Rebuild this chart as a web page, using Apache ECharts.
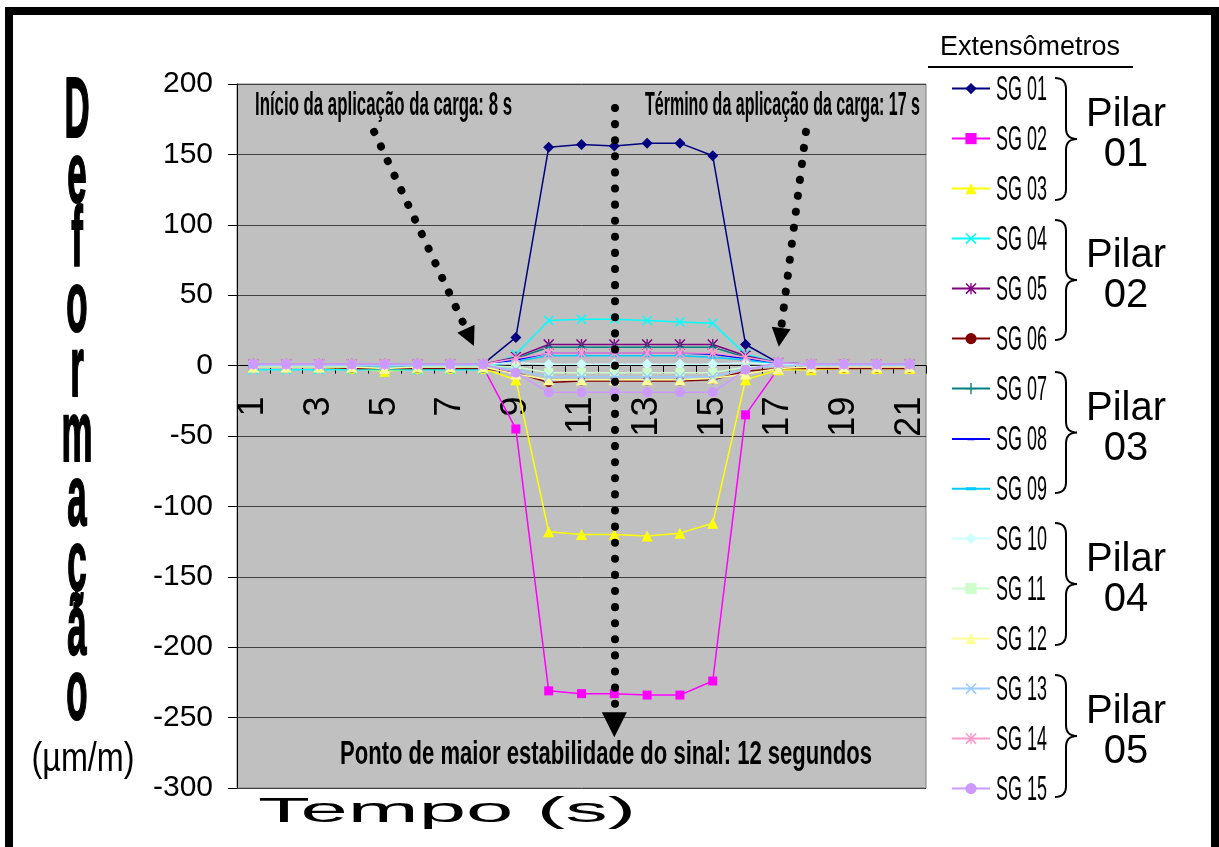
<!DOCTYPE html>
<html><head><meta charset="utf-8">
<script src="https://cdn.jsdelivr.net/npm/echarts@6/dist/echarts.min.js"></script>
<style>html,body{margin:0;padding:0;background:#fff}#c{width:1219px;height:847px}</style>
</head><body><div id="c"></div>
<script>
// ---------- data ----------
const categories = ['1','2','3','4','5','6','7','8','9','10','11','12','13','14','15','16','17','18','19','20','21'];
const seriesNames = ['SG 01','SG 02','SG 03','SG 04','SG 05','SG 06','SG 07','SG 08','SG 09','SG 10','SG 11','SG 12','SG 13','SG 14','SG 15'];
const sg01 = [1,1,1,1,1,1,1,1,20,155,157,156,158,158,149,15,2,1,1,1,1];
const sg02 = [0,0,0,0,0,0,-1,-1,-45,-231,-233,-233,-234,-234,-224,-35,-2,-1,-1,-1,-1];
const sg03 = [-1,-1,-1,-2,-4,-2,-2,-2,-10,-118,-120,-120,-121,-119,-112,-10,-3,-3,-2,-2,-2];
const sg04 = [-3,-3,-3,-3,-3,-3,-3,-3,8,32,33,33,32,31,30,8,2,1,1,1,1];
const sg05 = [1,1,1,1,1,1,1,1,6,15,15,15,15,15,15,7,2,1,1,1,1];
const sg06 = [-1,-1,-1,-2,-2,-2,-2,-2,-5,-12,-11,-11,-11,-11,-10,-4,-2,-2,-2,-2,-2];
const sg07 = [0,0,0,0,0,0,0,0,5,13,13,13,13,13,13,6,1,0,0,0,0];
const sg08 = [1,1,1,1,1,1,1,1,4,9,9,9,9,9,8,5,1,1,1,1,1];
const sg09 = [-1,-1,-1,-1,-1,-1,-1,-1,3,7,7,7,7,7,6,4,1,0,0,0,0];
const sg10 = [1,1,1,1,1,1,1,1,2,1,1,1,1,1,1,2,1,1,1,1,1];
const sg11 = [0,0,0,0,0,0,0,0,-1,-5,-5,-5,-5,-5,-5,-1,0,0,0,0,0];
const sg12 = [-1,-1,-1,-1,-2,-1,-1,-1,-6,-10,-10,-10,-10,-10,-9,-6,-2,-1,-1,-1,-1];
const sg13 = [0,0,0,0,0,0,0,0,-3,-8,-8,-8,-8,-8,-8,-2,0,0,0,0,0];
const sg14 = [1,1,1,1,1,1,1,1,5,9,9,9,9,9,9,6,2,1,1,1,1];
const sg15 = [1,1,1,1,1,1,1,1,-5,-19,-19,-19,-19,-19,-19,-3,2,1,1,1,1];
const seriesValues = [sg01,sg02,sg03,sg04,sg05,sg06,sg07,sg08,sg09,sg10,sg11,sg12,sg13,sg14,sg15];
const groupLabels = ['Pilar\n01','Pilar\n02','Pilar\n03','Pilar\n04','Pilar\n05'];
const yMin = -300, yMax = 200, yStep = 50;
// annotation arrows in data units (time, deformation)
const arrowStartEnd = [[[4.68,166],[7.60,20]],[[17.84,166],[17.05,20]]];
const arrowStability = [[12,183],[12,-255]];
const textStart = 'Início da aplicação da carga: 8 s';
const textEnd = 'Término da aplicação da carga: 17 s';
const textStable = 'Ponto de maior estabilidade do sinal: 12 segundos';

// ---------- layout & styles ----------
const FF = "'Liberation Sans', Arial, sans-serif";
const G = {left:237, right:293, top:84, bottom:59};
const plotH = 847 - G.top - G.bottom;
const zeroOffset = -plotH * (0 - yMin) / (yMax - yMin);
const colors = ['#000080','#FF00FF','#FFFF00','#00FFFF','#800080','#800000','#008080','#0000FF','#00CCFF','#CCFFFF','#CCFFCC','#FFFF99','#99CCFF','#FF99CC','#CC99FF'];
const X = 'path://M0,1L1,0L5,4L9,0L10,1L6,5L10,9L9,10L5,6L1,10L0,9L4,5Z';
const AST = 'path://M0,1L1,0L5,4L9,0L10,1L6,5L10,9L9,10L5,6L1,10L0,9L4,5Z M4.4,0L5.6,0L5.6,10L4.4,10Z';
const PLUS = 'path://M4.4,0L5.6,0L5.6,4.4L10,4.4L10,5.6L5.6,5.6L5.6,10L4.4,10L4.4,5.6L0,5.6L0,4.4L4.4,4.4Z';
const DASH = 'path://M0,3.5L10,3.5L10,6.5L0,6.5Z M0,0L0.01,0L0.01,0.01Z M10,10L9.99,10L9.99,9.99Z';
const symbols = ['diamond','rect','triangle',X,AST,'circle',PLUS,DASH,DASH,'diamond','rect','triangle',X,AST,'circle'];
const symSizes = [11,9,11,10,11,9,10,[7,10],[10,10],11,9,11,10,11,10];
const legendIconH = [14,14,14,14,14,14,14,9,13,14,14,14,14,14,14];

const ctx = document.createElement('canvas').getContext('2d');
function fit(text, font, w){ ctx.font = font; return w / ctx.measureText(text).width; }

function txt(text, x, y, font, opts){
  opts = opts || {};
  const st = {text:text, font:font, fill:'#000', textAlign: opts.align || 'left', textVerticalAlign: opts.va || 'middle', lineHeight: opts.lh};
  if (opts.stroke) { st.stroke = '#000'; st.lineWidth = opts.stroke; }
  return {type:'text', x:x, y:y, scaleX: opts.sx || 1, silent:true, z:100, style:st};
}
function quad(p0,c,p1,out){
  for(let i=1;i<=8;i++){const t=i/8;out.push([(1-t)*(1-t)*p0[0]+2*(1-t)*t*c[0]+t*t*p1[0],(1-t)*(1-t)*p0[1]+2*(1-t)*t*c[1]+t*t*p1[1]]);}
}
function brace(y0,y1){
  const xa=1055, xs=1066, xt=1077, r=11, m=(y0+y1)/2;
  const pts=[[xa,y0]];
  quad([xa,y0],[xs,y0],[xs,y0+r],pts);
  pts.push([xs,m-r]);
  quad([xs,m-r],[xs,m],[xt,m],pts);
  quad([xt,m],[xs,m],[xs,m+r],pts);
  pts.push([xs,y1-r]);
  quad([xs,y1-r],[xs,y1],[xa,y1],pts);
  return {type:'polyline', silent:true, z:100, shape:{points:pts}, style:{stroke:'#000', lineWidth:2, fill:'none'}};
}

const annFont = "bold 34px " + FF;
const sgFont = "35px " + FF;
const sgScale = fit('SG 01', sgFont, 51);
const defFont = "bold 86px " + FF;
const defScale = fit('m', defFont, 31);

const graphic = [
  {type:'rect', silent:true, z:100, shape:{x:9, y:11, width:1206, height:900}, style:{fill:'none', stroke:'#000', lineWidth:8}},
  txt('Deformação'.split('').join('\n'), 77, 81, defFont, {align:'center', va:'top', lh:64.7, sx:defScale, stroke:2}),
  txt('(µm/m)', 83, 760, "40px " + FF, {align:'center', sx: fit('(µm/m)', "40px " + FF, 103)}),
  txt('Tempo (s)', 447, 812, "35px " + FF, {align:'center', sx: fit('Tempo (s)', "35px " + FF, 378)}),
  txt(textStart, 255, 106, annFont, {sx: fit(textStart, annFont, 257)}),
  txt(textEnd, 645, 106, annFont, {sx: fit(textEnd, annFont, 275)}),
  txt(textStable, 340, 755, annFont, {sx: fit(textStable, annFont, 532)}),
  txt('Extensômetros', 1030, 48, "27px " + FF, {align:'center'}),
  {type:'line', silent:true, z:100, shape:{x1:928, y1:67, x2:1133, y2:67}, style:{stroke:'#000', lineWidth:2}}
];
seriesNames.forEach((n,i)=>{ graphic.push(txt(n, 996, 90 + 50*i, sgFont, {sx: sgScale})); });
const braceRanges = [[78,200],[220,340],[372,493],[523,645],[675,797]];
braceRanges.forEach((r,i)=>{
  graphic.push(brace(r[0], r[1]));
  graphic.push(txt(groupLabels[i], 1126, (r[0]+r[1])/2 - 4, "40px " + FF, {align:'center', lh:40}));
});

// one legend block per series so each row sits exactly on its label
const legends = seriesNames.map((n,i)=>({
  orient:'vertical', left:951, top: 90 + 50*i - legendIconH[i]/2, itemWidth:38, itemHeight:legendIconH[i], padding:0,
  symbolKeepAspect:true,
  formatter:()=> '', textStyle:{fontSize:6, lineHeight:6}, selectedMode:false, data:[n]
}));

const series = seriesNames.map((n,i)=>({
  type:'line', name:n, data:seriesValues[i], symbol:symbols[i], symbolSize:symSizes[i],
  lineStyle:{color:colors[i], width:1.5}, itemStyle:{color:colors[i]}, animation:false, z:2+i*0.01
}));
const dotStyle = {color:'#000', width:8, type:[0.1,16], cap:'round', opacity:1};
series.push({type:'lines', coordinateSystem:'cartesian2d', xAxisIndex:1, yAxisIndex:0, z:5, silent:true, animation:false,
  symbol:['none','triangle'], symbolSize:[0,19], lineStyle:dotStyle,
  data: arrowStartEnd.map(c=>({coords:c}))});
series.push({type:'lines', coordinateSystem:'cartesian2d', xAxisIndex:1, yAxisIndex:0, z:5, silent:true, animation:false,
  symbol:['none','triangle'], symbolSize:[0,25], lineStyle:dotStyle,
  data: [{coords: arrowStability}]});

const chart = echarts.init(document.getElementById('c'), null, {renderer:'canvas'});
chart.setOption({
  backgroundColor:'#fff',
  animation:false,
  textStyle:{fontFamily:FF},
  grid:{left:G.left, right:G.right, top:G.top, bottom:G.bottom, containLabel:false, outerBoundsMode:'none',
    show:true, backgroundColor:'#C0C0C0', borderColor:'#808080', borderWidth:1},
  legend: legends,
  xAxis:[{type:'category', data:categories, boundaryGap:true, position:'bottom', offset: zeroOffset,
    axisLine:{onZero:false, lineStyle:{color:'#000', width:1}},
    axisTick:{show:true, interval:0, length:8, lineStyle:{color:'#000'}},
    axisLabel:{interval:1, rotate:90, margin:31, fontSize:36, color:'#000', fontFamily:FF},
    splitLine:{show:false}},
    {type:'value', min:0.5, max:21.5, show:false, axisLine:{onZero:false}}],
  yAxis:{type:'value', min:yMin, max:yMax, interval:yStep,
    axisLine:{show:true, onZero:false, lineStyle:{color:'#000', width:1}},
    axisTick:{show:true, length:9, lineStyle:{color:'#000'}},
    axisLabel:{fontSize:30, margin:24, color:'#000', fontFamily:FF},
    splitLine:{show:true, lineStyle:{color:'#404040', width:1}}},
  graphic: graphic,
  series: series
});
</script></body></html>
